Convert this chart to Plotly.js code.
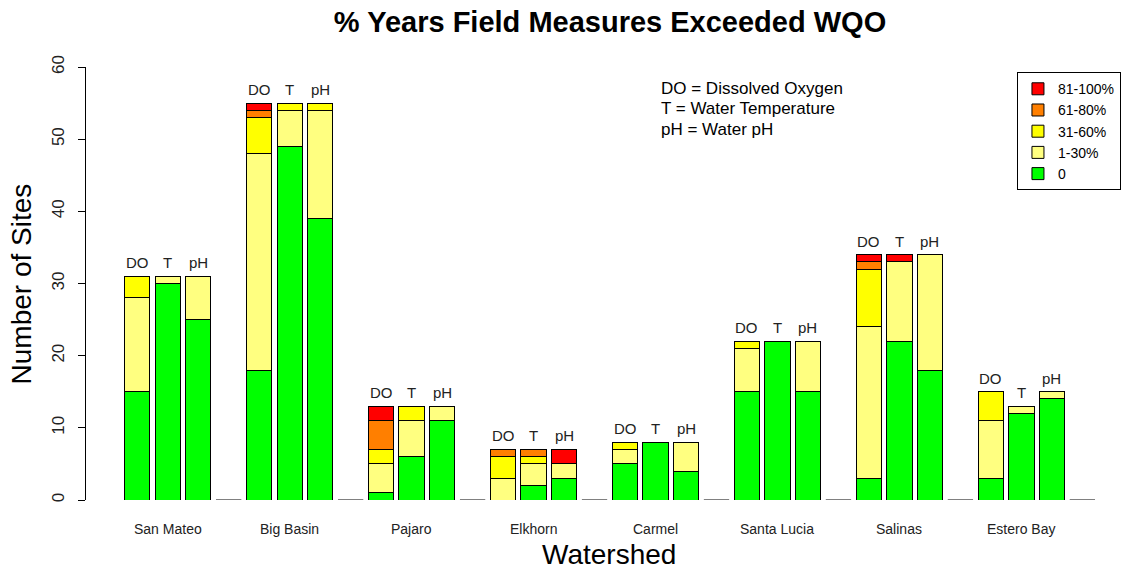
<!DOCTYPE html>
<html>
<head>
<meta charset="utf-8">
<script src="https://cdn.plot.ly/plotly-3.0.1.min.js"></script>
<style>html,body{margin:0;padding:0;background:#fff;overflow:hidden}#chart{width:1122px;height:569px}</style>
</head>
<body>
<div id="chart"></div>
<script>
// ---- data ----
const watersheds = ["San Mateo","Big Basin","Pajaro","Elkhorn","Carmel","Santa Lucia","Salinas","Estero Bay"];
const params = ["DO","T","pH"];
const classNames = ["0","1-30%","31-60%","61-80%","81-100%"];
// values per watershed, order DO, T, pH
const zeroPct   = [15,30,25, 18,49,39, 1,6,11, 0,2,3, 5,8,4, 15,22,15, 3,22,18, 3,12,14];
const pct1_30   = [13,1,6,  30,5,15,  4,5,2,  3,3,2, 2,0,4, 6,0,7,   21,11,16, 8,1,1];
const pct31_60  = [3,0,0,   5,1,1,    2,2,0,  3,1,0, 1,0,0, 1,0,0,   8,0,0,   4,0,0];
const pct61_80  = [0,0,0,   1,0,0,    4,0,0,  1,1,0, 0,0,0, 0,0,0,   1,0,0,   0,0,0];
const pct81_100 = [0,0,0,   1,0,0,    2,0,0,  0,0,2, 0,0,0, 0,0,0,   1,1,0,   0,0,0];
const colors = ["#00FF00","#FFFF80","#FFFF00","#FF7F00","#FF0000"];

// ---- layout helpers ----
const FONT = "Liberation Sans, Arial, sans-serif";
const BW = 0.83;
const slots = [];
const labels = [];
watersheds.forEach((w,g)=>params.forEach((p,k)=>{slots.push(g*4+k); labels.push(p);}));
const series = [zeroPct,pct1_30,pct31_60,pct61_80,pct81_100];

const traces = series.map((vals,i)=>({
  type:'bar', x:slots, y:vals, name:classNames[i], width:BW,
  marker:{color:colors[i], line:{color:'#000', width:1}},
  hoverinfo:'name+y'
}));

// baseline segments at the empty slot after each group
const gx=[], gy=[];
watersheds.forEach((w,g)=>{const s=g*4+3; gx.push(s-BW/2,s+BW/2,null); gy.push(0,0,null);});
traces.push({type:'scatter',mode:'lines',x:gx,y:gy,line:{color:'#000',width:1},showlegend:false,hoverinfo:'skip'});

const totals = slots.map((s,i)=>series.reduce((a,v)=>a+v[i],0));
const annotations = [];
slots.forEach((s,i)=>annotations.push({x:s,y:totals[i],xref:'x',yref:'y',text:labels[i],showarrow:false,
  yanchor:'bottom',yshift:3,font:{family:FONT,size:15,color:'#222'}}));
watersheds.forEach((w,g)=>annotations.push({x:g*4+1,y:-0.067,xref:'x',yref:'paper',text:w,showarrow:false,
  yanchor:'middle',font:{family:FONT,size:14,color:'#222'}}));
annotations.push({x:0.505,y:-0.126,xref:'paper',yref:'paper',text:'Watershed',showarrow:false,yanchor:'middle',
  font:{family:FONT,size:28,color:'#000'}});
annotations.push({x:-0.0618,y:0.5,xref:'paper',yref:'paper',text:'Number of Sites',showarrow:false,textangle:-90,
  xanchor:'center',yanchor:'middle',font:{family:FONT,size:28,color:'#000'}});
const keyLines = ["DO = Dissolved Oxygen","T = Water Temperature","pH = Water pH"];
const keyY = [0.9515,0.9053,0.8568];
keyLines.forEach((t,i)=>annotations.push({x:0.5531,y:keyY[i],xref:'paper',yref:'paper',text:t,showarrow:false,
  xanchor:'left',yanchor:'middle',font:{family:FONT,size:17,color:'#000'}}));

const layout = {
  width:1122, height:569,
  margin:{l:86,r:0,t:67,b:69,autoexpand:false},
  paper_bgcolor:'#fff', plot_bgcolor:'#fff',
  barmode:'stack',
  title:{text:'<b>% Years Field Measures Exceeded WQO</b>', x:0.5437, xref:'container', xanchor:'center',
    y:0.962, yref:'container', yanchor:'middle', font:{family:FONT,size:29,color:'#000'}},
  xaxis:{range:[-1.68,32.3], showticklabels:false, ticks:'', showgrid:false, zeroline:false, showline:false, fixedrange:true},
  yaxis:{range:[0,60], tickvals:[0,10,20,30,40,50,60], ticks:'outside', ticklen:7, tickcolor:'#000',
    showline:true, linecolor:'#000', linewidth:1, showgrid:false, zeroline:false, tickangle:-90,
    ticklabelstandoff:7, tickfont:{family:FONT,size:17,color:'#222'}, fixedrange:true},
  legend:{x:0.999, y:0.988, xanchor:'right', yanchor:'top', traceorder:'reversed',
    bordercolor:'#000', borderwidth:1, bgcolor:'#fff', font:{family:FONT,size:14,color:'#000'}},
  annotations:annotations,
  showlegend:true
};
Plotly.newPlot('chart', traces, layout, {displayModeBar:false, staticPlot:true});
</script>
</body>
</html>
